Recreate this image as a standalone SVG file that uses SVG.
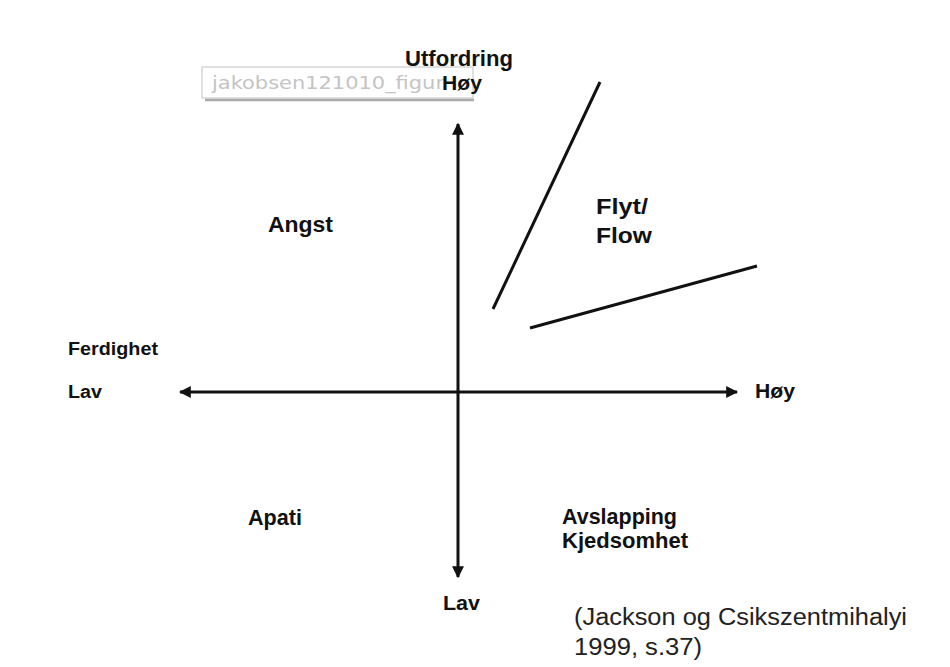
<svg xmlns="http://www.w3.org/2000/svg" width="950" height="667" viewBox="0 0 950 667">
<style>
.b{font-family:"Liberation Sans",Arial,sans-serif;font-weight:bold;fill:#111;}
.r{font-family:"Liberation Sans",Arial,sans-serif;fill:#222;}
.ax{stroke:#111;stroke-width:3;fill:none;}
</style>
<defs>
<marker id="ah" viewBox="0 0 10 10" refX="9" refY="5" markerWidth="4" markerHeight="4" orient="auto-start-reverse" markerUnits="strokeWidth">
<path d="M0,0 L10,5 L0,10 z" fill="#111"/>
</marker>
</defs>
<rect width="950" height="667" fill="#fff"/>
<g id="connectors">
<line class="ax" x1="458" y1="124" x2="458" y2="577" marker-start="url(#ah)" marker-end="url(#ah)"/>
<line class="ax" x1="180" y1="392" x2="737" y2="392" marker-start="url(#ah)" marker-end="url(#ah)"/>
<line class="ax" x1="493" y1="309" x2="600" y2="82"/>
<line class="ax" x1="530" y1="328" x2="757" y2="266"/>
</g>
<g id="tooltip">
<rect x="202" y="67" width="271" height="31" fill="#fff" stroke="#d6d6d6" stroke-width="1.5"/>
<line x1="205" y1="100" x2="474" y2="100" stroke="#aaa" stroke-width="2.5"/>
<text x="212" y="89" font-family="'DejaVu Sans',sans-serif" font-size="18" fill="#c4c4c4" textLength="232" lengthAdjust="spacingAndGlyphs">jakobsen121010_figur</text>
</g>
<g id="top-label">
<text class="b" x="405" y="66" font-size="22" textLength="108" lengthAdjust="spacingAndGlyphs">Utfordring</text>
<text class="b" x="442" y="90" font-size="21" textLength="40" lengthAdjust="spacingAndGlyphs">Høy</text>
</g>
<g id="angst"><text class="b" x="268" y="232" font-size="22" textLength="65" lengthAdjust="spacingAndGlyphs">Angst</text></g>
<g id="flow">
<text class="b" x="596" y="214" font-size="22" textLength="52" lengthAdjust="spacingAndGlyphs">Flyt/</text>
<text class="b" x="596" y="243" font-size="22" textLength="56" lengthAdjust="spacingAndGlyphs">Flow</text>
</g>
<g id="left-label">
<text class="b" x="68" y="355" font-size="18" textLength="90" lengthAdjust="spacingAndGlyphs">Ferdighet</text>
<text class="b" x="68" y="398" font-size="18" textLength="34" lengthAdjust="spacingAndGlyphs">Lav</text>
</g>
<g id="right-label"><text class="b" x="755" y="398" font-size="21" textLength="40" lengthAdjust="spacingAndGlyphs">Høy</text></g>
<g id="apati"><text class="b" x="248" y="525" font-size="22" textLength="54" lengthAdjust="spacingAndGlyphs">Apati</text></g>
<g id="avslapping">
<text class="b" x="562" y="524" font-size="22" textLength="115" lengthAdjust="spacingAndGlyphs">Avslapping</text>
<text class="b" x="562" y="548" font-size="22" textLength="126" lengthAdjust="spacingAndGlyphs">Kjedsomhet</text>
</g>
<g id="bottom-label"><text class="b" x="443" y="610" font-size="20" textLength="37" lengthAdjust="spacingAndGlyphs">Lav</text></g>
<g id="source">
<text class="r" x="574" y="625" font-size="23" textLength="333" lengthAdjust="spacingAndGlyphs">(Jackson og Csikszentmihalyi</text>
<text class="r" x="574" y="655" font-size="23" textLength="128" lengthAdjust="spacingAndGlyphs">1999, s.37)</text>
</g>
</svg>
